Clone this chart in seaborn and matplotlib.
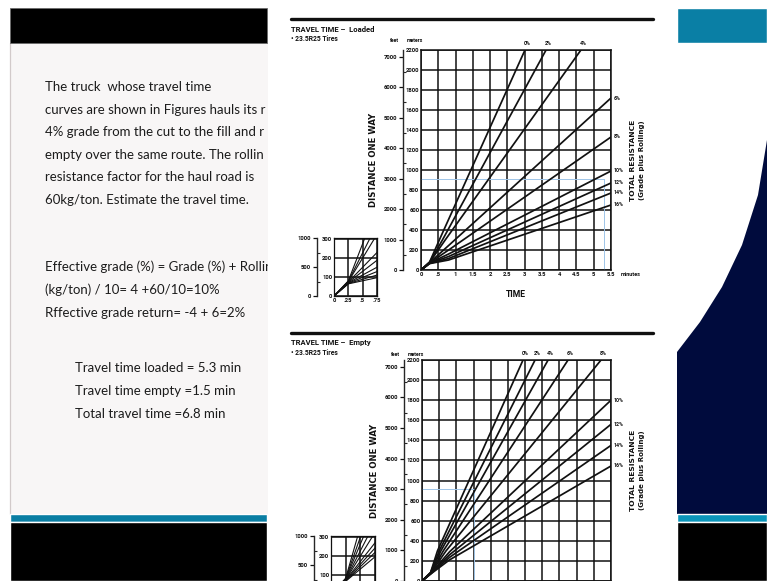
import matplotlib
matplotlib.use("Agg")
import matplotlib.pyplot as plt
from matplotlib.patches import Rectangle, Polygon
from matplotlib.ticker import MultipleLocator
import numpy as np
import pandas as pd
import seaborn as sns

W, H = 767, 581

# ---- data ----
loaded_grades = ["0%", "2%", "4%", "6%", "8%", "10%", "12%", "14%", "16%"]
loaded_time = [
    [0, 0.25, 0.53, 3.01],
    [0, 0.25, 0.62, 3.62],
    [0, 0.25, 0.70, 4.63],
    [0, 0.25, 0.80, 5.5],
    [0, 0.25, 0.80, 5.5],
    [0, 0.25, 0.80, 5.5],
    [0, 0.25, 0.80, 5.5],
    [0, 0.25, 0.80, 5.5],
    [0, 0.25, 0.80, 5.5],
]
loaded_dist = [
    [0, 80, 300, 2200],
    [0, 78, 300, 2200],
    [0, 76, 300, 2200],
    [0, 74, 245, 1720],
    [0, 72, 200, 1330],
    [0, 70, 160, 990],
    [0, 68, 135, 870],
    [0, 66, 115, 770],
    [0, 64, 100, 650],
]

empty_grades = ["0%", "2%", "4%", "6%", "8%", "10%", "12%", "14%", "16%"]
empty_time = [
    [0, 0.25, 0.45, 2.94],
    [0, 0.25, 0.50, 3.29],
    [0, 0.25, 0.55, 3.67],
    [0, 0.25, 0.62, 4.25],
    [0, 0.25, 0.70, 5.21],
    [0, 0.25, 0.80, 5.5],
    [0, 0.25, 0.80, 5.5],
    [0, 0.25, 0.80, 5.5],
    [0, 0.25, 0.80, 5.5],
]
empty_dist = [
    [0, 85, 300, 2200],
    [0, 83, 300, 2200],
    [0, 81, 300, 2200],
    [0, 79, 300, 2200],
    [0, 77, 300, 2200],
    [0, 75, 290, 1800],
    [0, 73, 260, 1560],
    [0, 71, 235, 1350],
    [0, 69, 210, 1145],
]

# haul distance 3000 ft and the times read for it
haul_m = 914
loaded_read_t = 5.3
empty_read_t = 1.5

time_ticks = [0, 0.5, 1, 1.5, 2, 2.5, 3, 3.5, 4, 4.5, 5, 5.5]
time_labels = ["0", ".5", "1", "1.5", "2", "2.5", "3", "3.5", "4", "4.5", "5", "5.5"]
meter_ticks = list(range(0, 2201, 200))
feet_ticks = list(range(0, 7001, 1000))
inset_time_ticks = [0, 0.25, 0.5, 0.75]
inset_time_labels = ["0", ".25", ".5", ".75"]
inset_meter_ticks = [0, 100, 200, 300]
inset_feet_ticks = [0, 500, 1000]

NARROW = ["Roboto", "DejaVu Sans"]
SLIDE = ["Lato", "DejaVu Sans"]
INK = "#111111"


def to_frame(grades, times, dists):
    rows = []
    for g, ts, ds in zip(grades, times, dists):
        for t, d in zip(ts, ds):
            rows.append({"grade": g, "t": t, "d": d})
    return pd.DataFrame(rows)


def m_to_ft(m):
    return np.asarray(m) * 3.28084


def ft_to_m(f):
    return np.asarray(f) / 3.28084


def px_axes(fig, x0, y0, x1, y1):
    return fig.add_axes([x0 / W, 1 - y1 / H, (x1 - x0) / W, (y1 - y0) / H])


def style_grid(ax, xt, xl, yt, xminor, yminor, feet_loc, fticks, fminor):
    ax.set_xticks(xt)
    ax.set_xticklabels(xl)
    ax.set_yticks(yt)
    ax.set_yticklabels([str(v) for v in yt])
    ax.xaxis.set_minor_locator(MultipleLocator(xminor))
    ax.yaxis.set_minor_locator(MultipleLocator(yminor))
    ax.tick_params(which="major", length=0, pad=1.2, labelsize=4.2, colors=INK)
    ax.tick_params(which="minor", direction="in", length=2.3, width=0.8)
    for lab in ax.get_xticklabels() + ax.get_yticklabels():
        lab.set_family(NARROW)
        lab.set_fontweight("bold")
    ax.grid(True, which="major", color=INK, lw=1.1)
    ax.set_axisbelow(True)
    for s in ax.spines.values():
        s.set_linewidth(1.1)
        s.set_color(INK)
    ax.set_xlabel("")
    ax.set_ylabel("")
    sec = ax.secondary_yaxis(feet_loc, functions=(m_to_ft, ft_to_m))
    sec.set_yticks(fticks)
    sec.set_yticklabels([str(v) for v in fticks])
    sec.yaxis.set_minor_locator(MultipleLocator(fminor))
    sec.tick_params(which="major", direction="out", length=3.2, width=0.9,
                    pad=1, labelsize=4.2, colors=INK)
    sec.tick_params(which="minor", direction="in", length=2.3, width=0.8)
    sec.spines["left"].set_linewidth(1.0)
    for lab in sec.get_yticklabels():
        lab.set_family(NARROW)
        lab.set_fontweight("bold")
    return sec


def draw_chart(fig, bg, df, box, inset_box, read_t, top_y, title):
    x0, y0, x1, y1 = box
    w, h = x1 - x0, y1 - y0
    ax = px_axes(fig, x0, y0, x1, y1)
    sns.lineplot(data=df, x="t", y="d", units="grade", estimator=None,
                 sort=False, color=INK, lw=1.25, ax=ax)
    ax.plot([0, read_t], [haul_m, haul_m], color="#9fc5e8", lw=0.7, zorder=1.5)
    ax.plot([read_t, read_t], [0, haul_m], color="#9fc5e8", lw=0.7, zorder=1.5)
    ax.set_xlim(0, 5.5)
    ax.set_ylim(0, 2200)
    style_grid(ax, time_ticks, time_labels, meter_ticks, 0.25, 100,
               -18 / w, feet_ticks, 500)
    ax.set_xlabel("TIME", fontsize=6.2, fontweight="bold", family=NARROW, color=INK)
    ax.xaxis.set_label_coords(0.5, -20 / h)
    ax.set_ylabel("DISTANCE ONE WAY", fontsize=6.1, fontweight="bold", color=INK)
    ax.yaxis.set_label_coords(-43 / w, 0.5)
    ax.annotate("minutes", (1.0, 0.0), xycoords="axes fraction", xytext=(7, -3.5),
                textcoords="offset points", fontsize=4.0, fontweight="bold",
                family=NARROW, ha="left", va="center", color=INK)
    ax.text(1.0 + 22 / w, 0.5, "TOTAL RESISTANCE", transform=ax.transAxes, rotation=90,
            fontsize=5.4, fontweight="bold", ha="center", va="center", color=INK)
    ax.text(1.0 + 31 / w, 0.5, "(Grade plus Rolling)", transform=ax.transAxes,
            rotation=90, fontsize=5.0, fontweight="bold", ha="center", va="center",
            color=INK)
    for g, grp in df.groupby("grade", sort=False):
        t_end, d_end = grp["t"].iloc[-1], grp["d"].iloc[-1]
        if d_end >= 2200:
            ax.annotate(g, (t_end, d_end), xytext=(1.5, 5), textcoords="offset points",
                        ha="center", va="center", fontsize=3.8, fontweight="bold",
                        family=NARROW, color=INK, annotation_clip=False)
        else:
            ax.annotate(g, (t_end, d_end), xytext=(2, 0), textcoords="offset points",
                        ha="left", va="center", fontsize=3.8, fontweight="bold",
                        family=NARROW, color=INK, annotation_clip=False)

    ix0, iy0, ix1, iy1 = inset_box
    ins = px_axes(fig, ix0, iy0, ix1, iy1)
    sns.lineplot(data=df, x="t", y="d", units="grade", estimator=None,
                 sort=False, color=INK, lw=0.8, ax=ins)
    ins.set_xlim(0, 0.75)
    ins.set_ylim(0, 306)
    style_grid(ins, inset_time_ticks, inset_time_labels, inset_meter_ticks,
               0.125, 50, -17 / (ix1 - ix0), inset_feet_ticks, 250)
    for s in ins.spines.values():
        s.set_linewidth(0.9)

    # header text
    bg.plot([291, 653], [top_y, top_y], color="#101010", lw=2.4, zorder=6)
    bg.text(291, top_y + 10, title, fontsize=5.5, fontweight="bold", family=NARROW,
            ha="left", va="center", color=INK, zorder=6)
    bg.text(291, top_y + 20, "\u2022 23.5R25 Tires", fontsize=4.9, fontweight="bold",
            family=NARROW, ha="left", va="center", color=INK, zorder=6)
    bg.text(x0 - 27, top_y + 22, "feet", fontsize=3.8, fontweight="bold", family=NARROW,
            ha="center", va="center", color=INK, zorder=6)
    bg.text(x0 - 6, top_y + 22, "meters", fontsize=3.8, fontweight="bold", family=NARROW,
            ha="center", va="center", color=INK, zorder=6)
    return ax


fig = plt.figure(figsize=(W / 100, H / 100), dpi=100)
fig.patch.set_facecolor("white")
sns.set_style("white")

bg = fig.add_axes([0, 0, 1, 1])
bg.set_xlim(0, W)
bg.set_ylim(H, 0)
bg.axis("off")

# slide decoration
bg.add_patch(Rectangle((10, 43), 258, 471, fc="#f8f6f6", ec="none", zorder=0))
bg.plot([10, 10], [43, 514], color="#d2caca", lw=0.9, zorder=1)
bg.add_patch(Rectangle((10, 8), 257, 35, fc="black", ec="#6a6a6a", lw=0.6, zorder=1))
bg.add_patch(Rectangle((10, 514), 257, 8, fc="#0a7ea3", zorder=1))
bg.add_patch(Rectangle((10, 522), 257, 59, fc="black", zorder=1))
bg.add_patch(Rectangle((677, 8), 90, 35, fc="#0a7fa5", zorder=1))
bg.add_patch(Polygon([(767, 140), (758, 195), (742, 245), (722, 287), (700, 322),
                      (677, 352), (677, 514), (767, 514)], fc="#000b3d", ec="none", zorder=1))
bg.add_patch(Rectangle((677, 514), 90, 8, fc="#0a95ba", zorder=1))
bg.add_patch(Rectangle((677, 522), 90, 59, fc="black", zorder=1))

txt = dict(fontsize=9.5, family=SLIDE, color="#1c1c1c", ha="left", va="center", zorder=3)
block1 = ["The truck  whose travel time",
          "curves are shown in Figures hauls its r",
          "4% grade from the cut to the fill and r",
          "empty over the same route. The rollin",
          "resistance factor for the haul road is",
          "60kg/ton. Estimate the travel time."]
for i, s in enumerate(block1):
    bg.text(45, 87 + i * 22.6, s, **txt)
block2 = ["Effective grade (%) = Grade (%) + Rollin",
          "(kg/ton) / 10= 4 +60/10=10%",
          "Rffective grade return= -4 + 6=2%"]
for i, s in enumerate(block2):
    bg.text(45, 267 + i * 23, s, **txt)
block3 = ["Travel time loaded = 5.3 min",
          "Travel time empty =1.5 min",
          "Total travel time =6.8 min"]
for i, s in enumerate(block3):
    bg.text(75, 368 + i * 23, s, **txt)

# chart paper over the clipped text
bg.add_patch(Rectangle((268, 0), 409, 581, fc="white", ec="none", zorder=5))

loaded_df = to_frame(loaded_grades, loaded_time, loaded_dist)
empty_df = to_frame(empty_grades, empty_time, empty_dist)

draw_chart(fig, bg, loaded_df, (421, 50, 611, 270), (334, 238, 377, 296),
           loaded_read_t, 19, "TRAVEL TIME \u2013  Loaded")
draw_chart(fig, bg, empty_df, (422, 360, 611, 581), (331, 536, 375, 594.5),
           empty_read_t, 333, "TRAVEL TIME \u2013  Empty")

fig.savefig("out.png", dpi=100)
